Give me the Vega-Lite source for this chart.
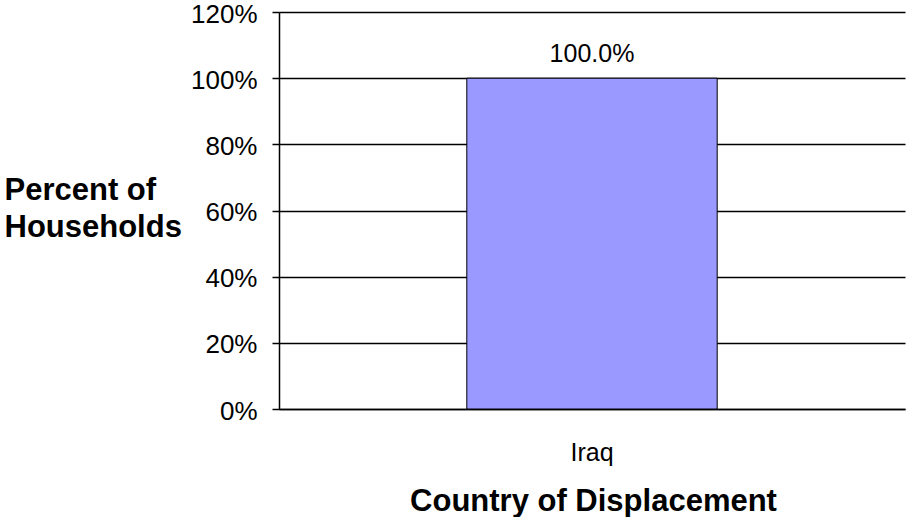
{
  "$schema": "https://vega.github.io/schema/vega-lite/v6.json",
  "autosize": {"type": "none"},
  "width": 626,
  "height": 397,
  "padding": {"left": 279, "top": 12, "right": 1, "bottom": 108},
  "background": "white",
  "config": {
    "view": {"stroke": null},
    "font": "Liberation Sans",
    "axis": {"labelFont": "Liberation Sans", "titleFont": "Liberation Sans", "labelColor": "black", "titleColor": "black"}
  },
  "data": {"values": [{"country": "Iraq", "share": 1.0}]},
  "layer": [
    {
      "mark": {"type": "bar", "fill": "#9999FF", "stroke": "black", "strokeWidth": 1},
      "encoding": {
        "x": {
          "field": "country", "type": "nominal",
          "scale": {"paddingInner": 0.6, "paddingOuter": 0.3},
          "axis": {
            "title": "Country of Displacement",
            "titleFontSize": 31, "titleFontWeight": "bold",
            "titleBaseline": "alphabetic", "titleY": 101, "titleX": 314, "titleAlign": "center",
            "labelFontSize": 25, "labelAngle": 0, "labelBaseline": "alphabetic", "labelPadding": 51,
            "ticks": false, "tickSize": 0,
            "domainColor": "black", "domainWidth": 1.5
          }
        },
        "y": {
          "field": "share", "type": "quantitative",
          "scale": {"domain": [0, 1.2], "nice": false},
          "axis": {
            "values": [0, 0.2, 0.4, 0.6, 0.8, 1.0, 1.2],
            "format": ".0%",
            "title": ["Percent of", "Households"],
            "titleAngle": 0, "titleAlign": "left", "titleBaseline": "alphabetic",
            "titleX": -275, "titleY": 187, "titleLineHeight": 37,
            "titleFontSize": 31, "titleFontWeight": "bold",
            "labelFontSize": 26, "labelPadding": 15, "labelOffset": 2,
            "tickSize": 7, "tickColor": "black", "tickWidth": 1.5,
            "domainColor": "black", "domainWidth": 1.5,
            "grid": true, "gridColor": "black", "gridWidth": 1.5, "gridOpacity": 1
          }
        }
      }
    },
    {
      "mark": {"type": "text", "fontSize": 25, "baseline": "alphabetic", "dy": -16, "color": "black", "font": "Liberation Sans"},
      "encoding": {
        "x": {"field": "country", "type": "nominal"},
        "y": {"field": "share", "type": "quantitative"},
        "text": {"field": "share", "type": "quantitative", "format": ".1%"}
      }
    }
  ]
}
